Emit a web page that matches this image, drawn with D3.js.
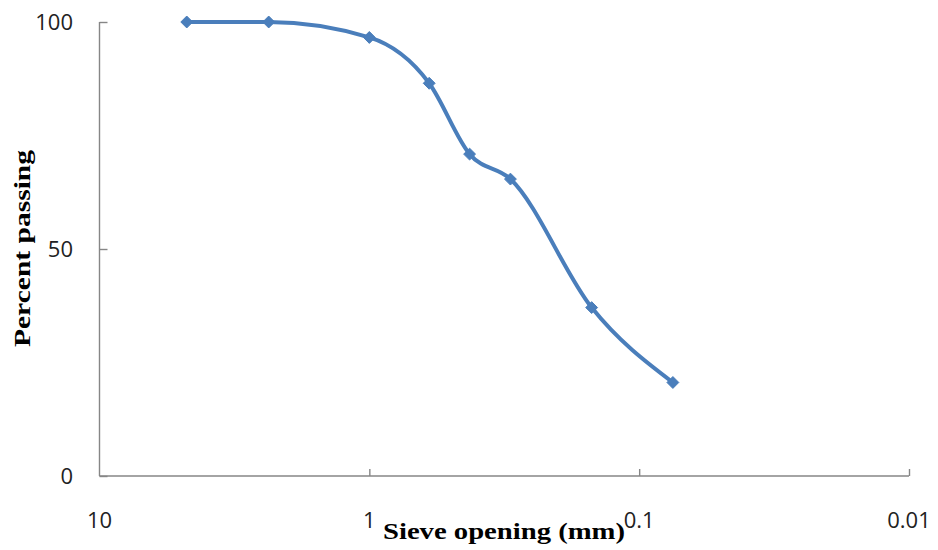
<!DOCTYPE html>
<html>
<head>
<meta charset="utf-8">
<script src="https://cdn.jsdelivr.net/npm/d3@7"></script>
<style>
  html, body { margin: 0; padding: 0; background: #fff; }
  svg { display: block; }
</style>
</head>
<body>
<svg id="chart" width="938" height="550"></svg>
<script>
// ---- data ----
const sieveSizes = [4.75, 2.36, 1.0, 0.6, 0.425, 0.3, 0.15, 0.075];
const percentPassing = [100, 100, 96.6, 86.5, 70.9, 65.4, 37.1, 20.6];
const xTickValues = [10, 1, 0.1, 0.01];
const xTickLabels = ["10", "1", "0.1", "0.01"];
const yTickValues = [0, 50, 100];
const xTitle = "Sieve opening (mm)";
const yTitle = "Percent passing";

(function () {
// ---- layout ----
const svg = d3.select("#chart");
const mLeft = 99.5, mRight = 909, mTop = 22, mBottom = 476;
const axisColor = "#868686";
const lineColor = "#4a7ebb";
const tickFont = "'Open Sans', 'Liberation Sans', sans-serif";
const titleFont = "'Liberation Serif', 'DejaVu Serif', serif";

const x = d3.scaleLog().domain([10, 0.01]).range([mLeft, mRight]);
const y = d3.scaleLinear().domain([0, 100]).range([mBottom, mTop]);

// x axis
const xAxis = d3.axisTop(x).tickValues(xTickValues.slice(1)).tickSize(7).tickFormat("");
const gx = svg.append("g").attr("transform", `translate(0,${mBottom})`).call(xAxis);
gx.select(".domain").attr("d", `M${mLeft},0H${mRight}`);
gx.selectAll("line, path").attr("stroke", axisColor).attr("stroke-width", 1.4);

// y axis
const yAxis = d3.axisRight(y).tickValues(yTickValues).tickSize(8).tickFormat("");
const gy = svg.append("g").attr("transform", `translate(${mLeft},0)`).call(yAxis);
gy.select(".domain").attr("d", `M0,${mTop}V${mBottom}`);
gy.selectAll("line, path").attr("stroke", axisColor).attr("stroke-width", 1.4);

// x tick labels
svg.append("g").selectAll("text").data(xTickValues).join("text")
  .attr("x", d => x(d))
  .attr("y", 527.5)
  .attr("text-anchor", "middle")
  .attr("font-family", tickFont)
  .attr("font-size", 22)
  .attr("fill", "#222")
  .text((d, i) => xTickLabels[i]);

// y tick labels
svg.append("g").selectAll("text").data(yTickValues).join("text")
  .attr("x", 73)
  .attr("y", d => y(d) + 8)
  .attr("text-anchor", "end")
  .attr("font-family", tickFont)
  .attr("font-size", 22)
  .attr("fill", "#222")
  .text(d => d);

// titles
svg.append("text")
  .attr("x", 383)
  .attr("y", 539)
  .attr("font-family", titleFont)
  .attr("font-weight", "bold")
  .attr("font-size", 24)
  .attr("textLength", 242)
  .attr("lengthAdjust", "spacingAndGlyphs")
  .attr("fill", "#000")
  .text(xTitle);

svg.append("text")
  .attr("transform", "translate(30,347) rotate(-90)")
  .attr("x", 0)
  .attr("y", 0)
  .attr("font-family", titleFont)
  .attr("font-weight", "bold")
  .attr("font-size", 24)
  .attr("textLength", 197)
  .attr("lengthAdjust", "spacingAndGlyphs")
  .attr("fill", "#000")
  .text(yTitle);

// series
const pts = sieveSizes.map((s, i) => ({ s, p: percentPassing[i] }));
const line = d3.line()
  .x(d => x(d.s))
  .y(d => y(d.p))
  .curve(d3.curveMonotoneX);

svg.append("path")
  .datum(pts)
  .attr("d", line)
  .attr("fill", "none")
  .attr("stroke", lineColor)
  .attr("stroke-width", 4)
  .attr("stroke-linejoin", "round");

svg.append("g").selectAll("path").data(pts).join("path")
  .attr("transform", d => `translate(${x(d.s)},${y(d.p)})`)
  .attr("d", d3.symbol(d3.symbolDiamond2, 90))
  .attr("fill", lineColor)
  .attr("stroke", lineColor)
  .attr("stroke-width", 1);
})();
</script>
</body>
</html>
